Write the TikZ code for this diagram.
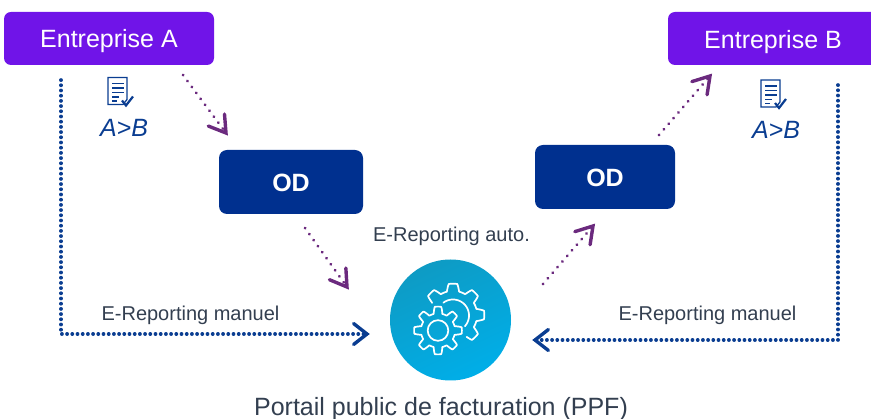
\documentclass[tikz,border=0pt]{standalone}
\usepackage{fontspec}
\setmainfont{Liberation Sans}
\usetikzlibrary{arrows.meta,calc}
\definecolor{violetbox}{HTML}{7014E8}
\definecolor{navybox}{HTML}{00308F}
\definecolor{dotnavy}{HTML}{0A3D91}
\definecolor{dotplum}{HTML}{6B2A7E}
\definecolor{circA}{HTML}{0E9BC4}
\definecolor{circB}{HTML}{00AEE8}
\definecolor{greytext}{HTML}{333F50}
\tikzset{
  x=1pt,y=-1pt,
  company/.style={fill=violetbox,rounded corners=7pt,text=white,font=\fontsize{25}{25}\selectfont,inner sep=0pt,anchor=center},
  odbox/.style={fill=navybox,rounded corners=8pt,text=white,font=\fontsize{25}{25}\selectfont\bfseries,inner sep=0pt},
  lbl/.style={text=greytext,font=\fontsize{20}{20}\selectfont,inner sep=0pt},
  ablabel/.style={text=dotnavy,font=\fontsize{25}{25}\selectfont\itshape,inner sep=0pt},
  plumflow/.style={draw=dotplum,line width=3pt,line cap=round,dash pattern=on 0.2pt off 7.2pt},
  navyflow/.style={draw=dotnavy,line width=3.6pt,line cap=round,line join=round,dash pattern=on 0.2pt off 5pt},
  plumtip/.style={draw=dotplum,line width=3.4pt,line join=miter,line cap=round},
  navytip/.style={draw=dotnavy,line width=3.4pt,line join=miter,line cap=round},
  gearline/.style={draw=white,line width=1.7pt,line join=round,line cap=round},
  docicon/.pic={
    \draw[draw=dotnavy,line width=1.3pt,fill=white] (-10,-14) -- (9,-14) -- (9,8) -- (5,13) -- (-10,13) -- cycle;
    \foreach \yy/\xx in {-8/6,-3.5/6,1/6,5.5/1,9.5/-1}
      \draw[draw=dotnavy,line width=1.4pt] (-6,\yy) -- (\xx,\yy);
    \draw[draw=dotnavy,line width=2.2pt,fill=none] (4,9) -- (8,14) -- (15,5);
  }
}
\begin{document}
\begin{tikzpicture}
\useasboundingbox (0,0) rectangle (871,419);
% boxes
\node[company,minimum width=210pt,minimum height=53pt] (ea) at (109,38.5) {\raisebox{-3pt}[\height][\depth]{Entreprise A}};
\fill[violetbox,rounded corners=7pt] (668,12) rectangle (880,65);
\node[text=white,font=\fontsize{25}{25}\selectfont,inner sep=0pt] (eb) at (773,42) {Entreprise B};
\node[odbox,minimum width=144pt,minimum height=64pt] (oda) at (291,182) {\raisebox{-1pt}[\height][\depth]{OD}};
\node[odbox,minimum width=140pt,minimum height=64pt] (odb) at (605,177) {\raisebox{-1pt}[\height][\depth]{OD}};
% portal
\node[circle,minimum size=121pt,inner sep=0pt,shading=axis,top color=circA,bottom color=circB,shading angle=25] (ppf) at (450.5,320) {};
\draw[gearline] plot[smooth,samples=240,domain=0:360] ({438+(20.5+3.4*max(-1,min(1,2.2*sin(8*\x+90))))*cos(\x)},{330.5-(20.5+3.4*max(-1,min(1,2.2*sin(8*\x+90))))*sin(\x)}) -- cycle;
\draw[gearline] (438,330.5) circle (10.3);
\draw[gearline] plot[smooth,samples=200,domain=150:-58] ({453+(27.7+3.6*max(-1,min(1,2.2*sin(8*\x+90))))*cos(\x)},{315-(27.7+3.6*max(-1,min(1,2.2*sin(8*\x+90))))*sin(\x)});
\draw[gearline] plot[smooth,samples=60,domain=127:-42] ({453+16*cos(\x)},{315.5-16*sin(\x)});
% labels
\node[lbl] (auto) at (451.5,236) {E-Reporting auto.};
\node[lbl] (mana) at (190.5,315) {E-Reporting manuel};
\node[lbl] (manb) at (707.5,315) {E-Reporting manuel};
\node[inner sep=0pt,text=greytext,font=\fontsize{25}{25}\selectfont] (portail) at (441,409) {Portail public de facturation (PPF)};
\node[ablabel] (aba) at (124,128) {A>B};
\node[ablabel] (abb) at (776,130) {A>B};
\pic at (118,91.5) {docicon};
\pic at (771,94) {docicon};
% flows
\coordinate (a1) at (183,75);  \coordinate (a2) at (226,133);
\coordinate (b1) at (305,228); \coordinate (b2) at (347,287);
\coordinate (c1) at (543,284); \coordinate (c2) at (593,226);
\coordinate (d1) at (659,135); \coordinate (d2) at (710,76);
\coordinate (l1) at (61,80);   \coordinate (l2) at (61,334);  \coordinate (l3) at (367,334);
\coordinate (r1) at (838,85);  \coordinate (r2) at (838,340); \coordinate (r3) at (535,340);
\draw[plumflow] (a1) -- (a2);
\draw[plumflow] (b1) -- (b2);
\draw[plumflow] (c1) -- (c2);
\draw[plumflow] (d1) -- (d2);
\foreach \s/\e in {a1/a2,b1/b2,c1/c2,d1/d2}
  \draw[plumtip] ($(\e)!19pt!32:(\s)$) -- (\e) -- ($(\e)!19pt!-32:(\s)$);
\draw[navyflow] (l1) -- (l2) -- (l3);
\draw[navyflow] (r1) -- (r2) -- (r3);
\draw[navytip] ($(l3)!17pt!38:(l2)$) -- (l3) -- ($(l3)!17pt!-38:(l2)$);
\draw[navytip] ($(r3)!17pt!38:(r2)$) -- (r3) -- ($(r3)!17pt!-38:(r2)$);
\end{tikzpicture}
\end{document}
